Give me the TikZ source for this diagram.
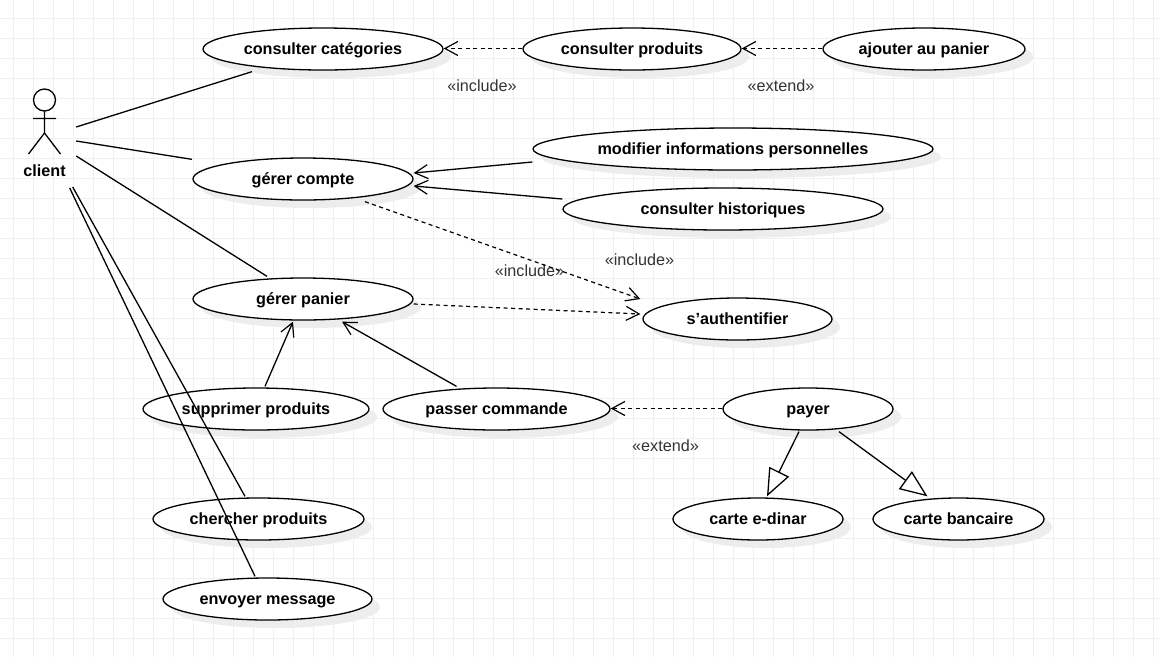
\documentclass[tikz,border=0pt]{standalone}
\usepackage{fontspec}
\setmainfont{Liberation Sans}
\usetikzlibrary{shapes.geometric,arrows.meta,shadows}
\definecolor{gridc}{HTML}{F0F0F0}
\definecolor{shadowc}{HTML}{EDEDED}
\definecolor{labelc}{HTML}{333333}
\tikzset{
  usecase/.style={ellipse,draw=black,fill=white,line width=1.3pt,inner sep=0pt,minimum height=42pt,
    font=\fontsize{16.2}{19}\selectfont\bfseries,text=black,text height=12pt,text depth=2pt,
    drop shadow={shadow xshift=8pt,shadow yshift=-8pt,fill=shadowc,opacity=1}},
  stereo/.style={font=\fontsize{16.2}{19}\selectfont,text=labelc,inner sep=0pt},
  conn/.style={draw=black,line width=1.3pt},
  dep/.style={conn,line width=1.2pt,dash pattern=on 4pt off 3.5pt,-{Straight Barb[length=13pt,width=14pt,line width=1.2pt]}},
  assoc/.style={conn,-{Straight Barb[length=13pt,width=14pt,line width=1.2pt]}},
  gen/.style={conn,-{Triangle[open,length=27.5pt,width=22pt,fill=white,line width=1.3pt]}}
}
\begin{document}
\begin{tikzpicture}[x=1pt,y=-1pt]
\useasboundingbox (0,0) rectangle (1160,657);
\fill[white] (0,0) rectangle (1160,657);
\foreach \gx in {13,33,...,1153} \draw[gridc,line width=1pt] (\gx,0) -- (\gx,657);
\foreach \gy in {18,38,...,638} \draw[gridc,line width=1pt] (0,\gy) -- (1160,\gy);

% actor
\node[draw=none,minimum width=32pt,minimum height=66pt,inner sep=0pt] (actor) at (44.5,121.5) {};
\draw[line width=1.3pt] (44.5,100) circle (11);
\draw[line width=1.3pt] (44.5,111) -- (44.5,133) (33,118.5) -- (56,118.5) (28.5,154) -- (44.5,133) -- (60.5,154);
\node[font=\fontsize{16.2}{19}\selectfont\bfseries,inner sep=0pt] (clientlabel) at (44.5,170.5) {client};

% use cases
\node[usecase,minimum width=240pt] (cat) at (323,49) {consulter catégories};
\node[usecase,minimum width=218pt] (prod) at (632,49) {consulter produits};
\node[usecase,minimum width=202pt] (add) at (924,49) {ajouter au panier};
\node[usecase,minimum width=400pt] (modif) at (733,149) {modifier informations personnelles};
\node[usecase,minimum width=320pt] (hist) at (723,209) {consulter historiques};
\node[usecase,minimum width=220pt] (compte) at (303,179) {gérer compte};
\node[usecase,minimum width=220pt] (panier) at (303,299) {gérer panier};
\node[usecase,minimum width=189pt] (auth) at (737.5,319) {s{\char39}authentifier};
\node[usecase,minimum width=226pt] (suppr) at (256,409) {supprimer produits};
\node[usecase,minimum width=227pt] (passer) at (496.5,409) {passer commande};
\node[usecase,minimum width=170pt] (payer) at (808,409) {payer};
\node[usecase,minimum width=211pt] (cherch) at (258.5,519) {chercher produits};
\node[usecase,minimum width=209pt] (envoy) at (267.5,599) {envoyer message};
\node[usecase,minimum width=170pt] (edinar) at (758,519) {carte e-dinar};
\node[usecase,minimum width=171pt] (banc) at (958.5,519) {carte bancaire};

% labels
\node[stereo] (l1) at (482,85.5) {«include»};
\node[stereo] (l2) at (781,85.5) {«extend»};
\node[stereo] (l3) at (529.5,270.5) {«include»};
\node[stereo] (l4) at (639.5,259.5) {«include»};
\node[stereo] (l5) at (665.5,445.5) {«extend»};

% actor links
\draw[conn] ([shift={(15.5,5.5)}]actor.east) -- ([shift={(-71,1)}]cat.south);
\draw[conn] ([shift={(15.5,19.5)}]actor.east) -- ([shift={(-111,2)}]compte.north);
\draw[conn] ([shift={(15.5,34.5)}]actor.east) -- ([shift={(-36,-1)}]panier.north);
\draw[conn] ([shift={(12,65.5)}]actor.east) -- ([shift={(-13.5,-1)}]cherch.north);
\draw[conn] ([shift={(9,66.5)}]actor.east) -- ([shift={(-12.5,-1)}]envoy.north);

% dependencies
\draw[dep] ([shift={(0,-0.5)}]prod.west) -- ([shift={(0,-0.5)}]cat.east);
\draw[dep] ([shift={(0,-0.5)}]add.west) -- ([shift={(0,-0.5)}]prod.east);
\draw[dep] ([shift={(62,1)}]compte.south) -- ([shift={(-2,-20)}]auth.west);
\draw[dep] ([shift={(0,5)}]panier.east) -- ([shift={(-2,-5)}]auth.west);
\draw[dep] ([shift={(0,-0.5)}]payer.west) -- ([shift={(0,-0.5)}]passer.east);

% associations with open heads
\draw[assoc] ([shift={(0,13)}]modif.west) -- ([shift={(0,-6)}]compte.east);
\draw[assoc] ([shift={(0,-10)}]hist.west) -- ([shift={(0,7)}]compte.east);
\draw[assoc] ([shift={(9,-1)}]suppr.north) -- ([shift={(-10,1)}]panier.south);
\draw[assoc] ([shift={(-40,-1)}]passer.north) -- ([shift={(39,1)}]panier.south);

% generalisations
\draw[gen] ([shift={(-9,1)}]payer.south) -- ([shift={(9,-1)}]edinar.north);
\draw[gen] ([shift={(31,1)}]payer.south) -- ([shift={(-31,-1)}]banc.north);
\end{tikzpicture}
\end{document}
